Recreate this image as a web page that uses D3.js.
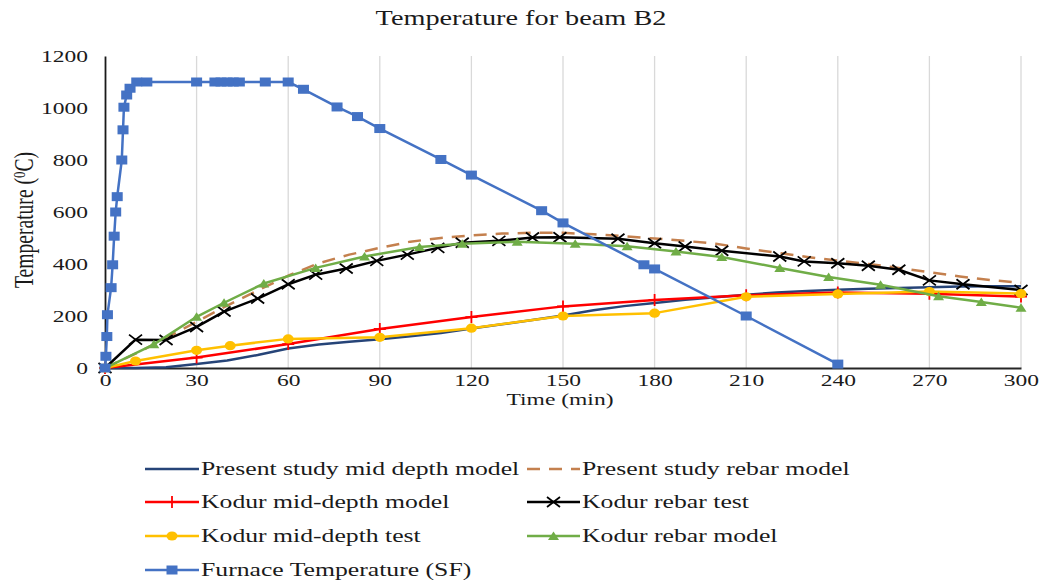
<!DOCTYPE html>
<html>
<head>
<meta charset="utf-8">
<script src="https://cdn.jsdelivr.net/npm/d3@7"></script>
<style>
  html, body { margin: 0; padding: 0; background: #fff; }
  svg { display: block; }
</style>
</head>
<body>
<svg id="chart" width="1040" height="585"></svg>
<script>
// ---- Data: temperatures (°C) against fire exposure time (min) ----
const xTicks = [0, 30, 60, 90, 120, 150, 180, 210, 240, 270, 300];
const yTicks = [0, 200, 400, 600, 800, 1000, 1200];

const midModelTime = [0, 10, 20, 30, 40, 50, 60, 70, 80, 90, 100, 110, 120, 130, 140, 150, 160, 170, 180, 190, 200, 210, 220, 230, 240, 250, 260, 270, 280, 290, 300];
const midModelTemp = [0, 0, 3, 15, 29, 50, 75, 90, 101, 111, 122, 135, 152, 168, 185, 202, 222, 238, 250, 262, 272, 282, 290, 296, 301, 305, 308, 311, 313, 314, 314];

const rebarModelTime = [0, 10, 20, 30, 40, 50, 60, 70, 80, 90, 100, 110, 120, 130, 140, 150, 160, 170, 180, 190, 200, 210, 220, 230, 240, 250, 260, 270, 280, 290, 300];
const rebarModelTemp = [0, 55, 115, 178, 240, 298, 355, 403, 436, 462, 486, 500, 510, 517, 520, 520, 514, 507, 498, 489, 478, 460, 443, 427, 413, 400, 385, 368, 352, 338, 328];

const kodurMidModelTime = [0, 30, 60, 90, 120, 150, 180, 210, 240, 270, 300];
const kodurMidModelTemp = [0, 40, 92, 150, 196, 237, 262, 280, 290, 286, 275];

const kodurRebarTestTime = [0, 10, 20, 30, 39, 50, 60, 69, 79, 89, 99, 109, 117, 129, 140, 149, 168, 180, 190, 202, 221, 229, 240, 250, 260, 270, 281, 300];
const kodurRebarTestTemp = [0, 109, 108, 158, 217, 267, 322, 359, 383, 412, 436, 462, 482, 489, 502, 503, 497, 480, 467, 451, 429, 410, 403, 393, 378, 337, 322, 300];

const kodurMidTestTime = [0, 10, 30, 41, 60, 90, 120, 150, 180, 210, 240, 270, 300];
const kodurMidTestTemp = [0, 27, 68, 86, 112, 118, 153, 200, 211, 274, 285, 294, 286];

const kodurRebarModelTime = [0, 16, 30, 39, 52, 69, 85, 103, 117, 135, 154, 171, 187, 202, 221, 237, 254, 273, 287, 300];
const kodurRebarModelTemp = [0, 91, 197, 251, 325, 385, 429, 465, 478, 486, 478, 468, 448, 427, 385, 350, 320, 276, 254, 232];

const furnaceTime = [0, 0.3, 0.6, 0.8, 2, 2.5, 3, 3.5, 4, 5.5, 5.9, 6.2, 7.1, 8.2, 10.4, 13.7, 30, 36, 38, 40, 42, 44, 52.5, 60, 65, 76, 82.7, 90, 110, 120, 143, 150, 176.5, 180, 210, 240];
const furnaceTemp = [0, 45, 121, 205, 309, 397, 507, 600, 659, 800, 916, 1003, 1050, 1076, 1100, 1100, 1100, 1100, 1100, 1100, 1100, 1100, 1100, 1100, 1072, 1004, 967, 921, 802, 742, 605, 558, 397, 381, 200, 15];

const zip = (t, v) => t.map((d, i) => ({ t: d, v: v[i] }));

// Series in legend order (row by row, two columns)
const series = [
  { name: 'Present study mid depth model', color: '#264478', dash: null, marker: null, data: zip(midModelTime, midModelTemp) },
  { name: 'Present study rebar model', color: '#C4804E', dash: '13,9', marker: null, data: zip(rebarModelTime, rebarModelTemp) },
  { name: 'Kodur mid-depth model', color: '#FF0000', dash: null, marker: 'plus', data: zip(kodurMidModelTime, kodurMidModelTemp) },
  { name: 'Kodur rebar test', color: '#000000', dash: null, marker: 'x', data: zip(kodurRebarTestTime, kodurRebarTestTemp) },
  { name: 'Kodur mid-depth test', color: '#FFC000', dash: null, marker: 'circle', data: zip(kodurMidTestTime, kodurMidTestTemp) },
  { name: 'Kodur rebar model', color: '#70AD47', dash: null, marker: 'triangle', data: zip(kodurRebarModelTime, kodurRebarModelTemp) },
  { name: 'Furnace Temperature (SF)', color: '#4472C4', dash: null, marker: 'square', data: zip(furnaceTime, furnaceTemp) }
];

// ---- Layout ----
const svg = d3.select('#chart');
const FONT = '"Liberation Serif", "Times New Roman", serif';
const SX = 1.36;               // glyphs are drawn wide
const x = d3.scaleLinear().domain([0, 300]).range([105, 1021]);
const y = d3.scaleLinear().domain([0, 1200]).range([368, 56]);

function stretchedText(parent, px, py, txt, size, anchor, rotate) {
  const t = parent.append('text')
    .attr('transform', `translate(${px},${py}) scale(${SX},1)` + (rotate ? ` rotate(${rotate})` : ''))
    .attr('text-anchor', anchor || 'start')
    .style('font-family', FONT)
    .style('font-size', size + 'px')
    .attr('fill', '#1a1a1a');
  if (txt !== null) t.text(txt);
  return t;
}

// Title
stretchedText(svg, 521, 25, 'Temperature for beam B2', 20.8, 'middle');

// Vertical gridlines
svg.append('g')
  .selectAll('line')
  .data(xTicks.slice(1))
  .join('line')
  .attr('x1', d => x(d)).attr('x2', d => x(d))
  .attr('y1', y(1200)).attr('y2', y(0))
  .attr('stroke', '#D9D9D9')
  .attr('stroke-width', 1.3);

// Axes
const xAxis = svg.append('g')
  .attr('transform', `translate(0,${y(0)})`)
  .call(d3.axisBottom(x).tickValues(xTicks).tickSize(0).tickPadding(0).tickFormat(d3.format('d')));
xAxis.select('.domain').attr('stroke', '#262626').attr('stroke-width', 1.8);
xAxis.selectAll('text')
  .attr('y', 0).attr('dy', null)
  .attr('transform', `translate(0,18) scale(${SX},1)`)
  .style('font-family', FONT).style('font-size', '17.3px').attr('fill', '#1a1a1a');

const yAxis = svg.append('g')
  .attr('transform', `translate(${x(0)},0)`)
  .call(d3.axisLeft(y).tickValues(yTicks).tickSize(0).tickPadding(0).tickFormat(d3.format('d')));
yAxis.select('.domain').attr('stroke', '#1a1a1a').attr('stroke-width', 1.8);
yAxis.selectAll('text')
  .attr('x', 0).attr('dy', '0.34em')
  .attr('transform', `translate(-17,0) scale(${SX},1)`)
  .style('font-family', FONT).style('font-size', '17.3px').attr('fill', '#1a1a1a');

// Axis titles
stretchedText(svg, 560, 405, 'Time (min)', 17.3, 'middle');
const yTitle = stretchedText(svg, 33, 220, null, 19.6, 'middle', -90);
yTitle.append('tspan').text('Temperature (');
yTitle.append('tspan').attr('dy', -6).style('font-size', '13px').text('0');
yTitle.append('tspan').attr('dy', 6).text('C)');

// ---- Marker drawing ----
function drawMarker(g, type, color, cx, cy) {
  if (type === 'square') {
    g.append('rect').attr('x', cx - 5.5).attr('y', cy - 4.5).attr('width', 11).attr('height', 9).attr('fill', color);
  } else if (type === 'circle') {
    g.append('ellipse').attr('cx', cx).attr('cy', cy).attr('rx', 5.5).attr('ry', 4.6).attr('fill', color);
  } else if (type === 'triangle') {
    g.append('path').attr('d', `M${cx - 5.5},${cy + 4}L${cx + 5.5},${cy + 4}L${cx},${cy - 4.5}Z`).attr('fill', color);
  } else if (type === 'x') {
    g.append('path').attr('d', `M${cx - 6.5},${cy - 5}L${cx + 6.5},${cy + 5}M${cx - 6.5},${cy + 5}L${cx + 6.5},${cy - 5}`)
      .attr('stroke', color).attr('stroke-width', 1.8).attr('fill', 'none');
  } else if (type === 'plus') {
    g.append('path').attr('d', `M${cx - 6},${cy}L${cx + 6},${cy}M${cx},${cy - 6}L${cx},${cy + 6}`)
      .attr('stroke', color).attr('stroke-width', 1.8).attr('fill', 'none');
  }
}

// ---- Series ----
const line = d3.line().x(d => x(d.t)).y(d => y(d.v));
const plot = svg.append('g');
series.forEach(s => {
  const g = plot.append('g');
  g.append('path')
    .datum(s.data)
    .attr('d', line)
    .attr('fill', 'none')
    .attr('stroke', s.color)
    .attr('stroke-width', 2.5)
    .attr('stroke-linejoin', 'round')
    .attr('stroke-dasharray', s.dash);
  if (s.marker) s.data.forEach(d => drawMarker(g, s.marker, s.color, x(d.t), y(d.v)));
});

// ---- Legend ----
const legendRows = [469, 502, 536, 570];
const legendCols = [{ x1: 145, x2: 199, tx: 201 }, { x1: 527, x2: 580, tx: 582 }];
const legend = svg.append('g');
series.forEach((s, i) => {
  const row = legendRows[Math.floor(i / 2)];
  const col = legendCols[i % 2];
  const g = legend.append('g');
  g.append('line')
    .attr('x1', col.x1).attr('x2', col.x2).attr('y1', row).attr('y2', row)
    .attr('stroke', s.color).attr('stroke-width', 2.5)
    .attr('stroke-dasharray', s.dash);
  if (s.marker) drawMarker(g, s.marker, s.color, (col.x1 + col.x2) / 2, row);
  stretchedText(g, col.tx, row + 6, s.name, 18.9, 'start');
});
</script>
</body>
</html>
